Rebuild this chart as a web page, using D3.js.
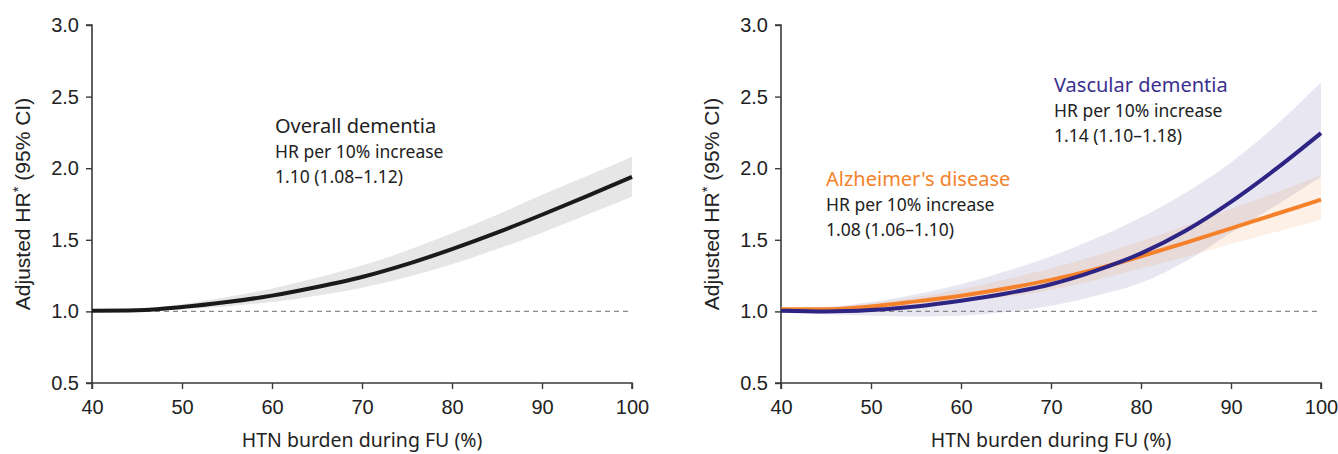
<!DOCTYPE html>
<html>
<head>
<meta charset="utf-8">
<script src="https://cdn.jsdelivr.net/npm/d3@7"></script>
<style>
  html, body { margin: 0; padding: 0; background: #fff; }
  svg { display: block; }
</style>
</head>
<body>
<svg id="chart" width="1338" height="454"></svg>
<script>
// ---------- data ----------
const htnBurden = [40, 45, 50, 55, 60, 65, 70, 75, 80, 85, 90, 95, 100];

const overallEst  = [1.005, 1.008, 1.03, 1.065, 1.11, 1.17, 1.24, 1.33, 1.435, 1.55, 1.675, 1.805, 1.94];
const overallLow  = [1.000, 1.000, 1.015, 1.035, 1.065, 1.11, 1.165, 1.24, 1.33, 1.435, 1.55, 1.675, 1.80];
const overallHigh = [1.015, 1.02, 1.05, 1.10, 1.16, 1.235, 1.32, 1.425, 1.545, 1.675, 1.815, 1.945, 2.08];

const adEst  = [1.015, 1.015, 1.035, 1.07, 1.11, 1.16, 1.22, 1.295, 1.385, 1.48, 1.58, 1.68, 1.78];
const adLow  = [1.000, 0.998, 1.02, 1.04, 1.07, 1.10, 1.15, 1.22, 1.30, 1.38, 1.47, 1.555, 1.64];
const adHigh = [1.03, 1.03, 1.055, 1.10, 1.155, 1.225, 1.30, 1.39, 1.49, 1.60, 1.715, 1.83, 1.95];

const vdEst  = [1.005, 1.0, 1.01, 1.035, 1.075, 1.125, 1.19, 1.285, 1.405, 1.565, 1.765, 1.995, 2.245];
const vdLow  = [0.99, 0.98, 0.97, 0.965, 0.97, 0.995, 1.04, 1.11, 1.20, 1.35, 1.55, 1.74, 1.94];
const vdHigh = [1.02, 1.03, 1.065, 1.12, 1.19, 1.28, 1.385, 1.51, 1.655, 1.83, 2.04, 2.30, 2.60];

const xTicks = [40, 50, 60, 70, 80, 90, 100];
const yTicks = [0.5, 1.0, 1.5, 2.0, 2.5, 3.0];

const yTitle = "Adjusted HR";
const xTitle = "HTN burden during FU (%)";

// ---------- layout ----------
const svg = d3.select("#chart");
const plotTop = 25, plotBottom = 383;
const panels = [
  { left: 92, right: 632, titleX: 30 },
  { left: 781, right: 1321, titleX: 719 }
];

const y = d3.scaleLinear().domain([0.5, 3.0]).range([plotBottom, plotTop]);

const tickFont = "'Liberation Sans', Arial, Helvetica, sans-serif";
const annFont = "'Noto Sans', 'Open Sans', sans-serif";

function drawPanel(p) {
  const x = d3.scaleLinear().domain([40, 100]).range([p.left, p.right]);
  const g = svg.append("g");

  const yAxis = g.append("g")
    .attr("transform", `translate(${p.left},0)`)
    .call(d3.axisLeft(y).tickValues(yTicks).tickFormat(d3.format(".1f")).tickSize(6).tickPadding(7));
  const xAxis = g.append("g")
    .attr("transform", `translate(0,${plotBottom})`)
    .call(d3.axisBottom(x).tickValues(xTicks).tickFormat(d3.format("d")).tickSize(6).tickPadding(11));
  [yAxis, xAxis].forEach(a => {
    a.select(".domain").attr("stroke", "#3a3a3a").attr("stroke-width", 1.6);
    a.selectAll(".tick line").attr("stroke", "#3a3a3a").attr("stroke-width", 1.4);
    a.selectAll(".tick text").attr("fill", "#222").style("font-family", tickFont).style("font-size", "20px");
  });
  yAxis.select(".domain").attr("d", `M-6,${plotTop}H0V${plotBottom}H-6`);
  xAxis.select(".domain").attr("d", `M${p.left},6V0H${p.right}V6`);

  const yt = g.append("text")
    .attr("transform", `translate(${p.titleX},${204}) rotate(-90)`)
    .attr("text-anchor", "middle")
    .style("font-family", tickFont).style("font-size", "21px").attr("fill", "#222");
  yt.append("tspan").text(yTitle);
  yt.append("tspan").text("*").attr("dy", -7).style("font-size", "15px");
  yt.append("tspan").text(" (95% CI)").attr("dy", 7);

  g.append("text")
    .attr("x", (p.left + p.right) / 2).attr("y", 447)
    .attr("text-anchor", "middle")
    .style("font-family", annFont).style("font-size", "19.5px").attr("fill", "#222")
    .text(xTitle);

  return { g, x };
}

function band(g, x, low, high, fill, opacity) {
  const area = d3.area()
    .x((d, i) => x(htnBurden[i]))
    .y0((d, i) => y(low[i]))
    .y1((d, i) => y(high[i]))
    .curve(d3.curveMonotoneX);
  g.append("path").datum(htnBurden).attr("d", area)
    .attr("fill", fill).attr("fill-opacity", opacity);
}

function refLine(g, x) {
  g.append("line")
    .attr("x1", x(40)).attr("x2", x(100))
    .attr("y1", y(1)).attr("y2", y(1))
    .attr("stroke", "#8a8a8a").attr("stroke-width", 1.2)
    .attr("stroke-dasharray", "5,4");
}

function curve(g, x, vals, color) {
  const line = d3.line()
    .x((d, i) => x(htnBurden[i]))
    .y((d, i) => y(vals[i]))
    .curve(d3.curveMonotoneX);
  g.append("path").datum(htnBurden).attr("d", line)
    .attr("fill", "none").attr("stroke", color).attr("stroke-width", 4)
    .attr("stroke-linecap", "butt").attr("stroke-linejoin", "round");
}

function annotate(g, xPos, yPos, title, color, l1, l2) {
  g.append("text").attr("x", xPos).attr("y", yPos)
    .style("font-family", annFont).style("font-size", "20px").attr("fill", color).text(title);
  g.append("text").attr("x", xPos).attr("y", yPos + 25)
    .style("font-family", annFont).style("font-size", "17.5px").attr("fill", "#222").text(l1);
  g.append("text").attr("x", xPos).attr("y", yPos + 50)
    .style("font-family", annFont).style("font-size", "17.5px").attr("fill", "#222").text(l2);
}

// ---------- left panel ----------
const L = drawPanel(panels[0]);
band(L.g, L.x, overallLow, overallHigh, "#e6e6e6", 1);
refLine(L.g, L.x);
curve(L.g, L.x, overallEst, "#1a1a1a");
annotate(L.g, 275, 133, "Overall dementia", "#222", "HR per 10% increase", "1.10 (1.08\u20131.12)");

// ---------- right panel ----------
const R = drawPanel(panels[1]);
band(R.g, R.x, vdLow, vdHigh, "#3a2f8f", 0.12);
band(R.g, R.x, adLow, adHigh, "#f08030", 0.12);
refLine(R.g, R.x);
curve(R.g, R.x, adEst, "#f5822a");
curve(R.g, R.x, vdEst, "#2e2483");
annotate(R.g, 1054, 92, "Vascular dementia", "#3b2f8f", "HR per 10% increase", "1.14 (1.10\u20131.18)");
annotate(R.g, 826, 186, "Alzheimer's disease", "#f5822a", "HR per 10% increase", "1.08 (1.06\u20131.10)");
</script>
</body>
</html>
